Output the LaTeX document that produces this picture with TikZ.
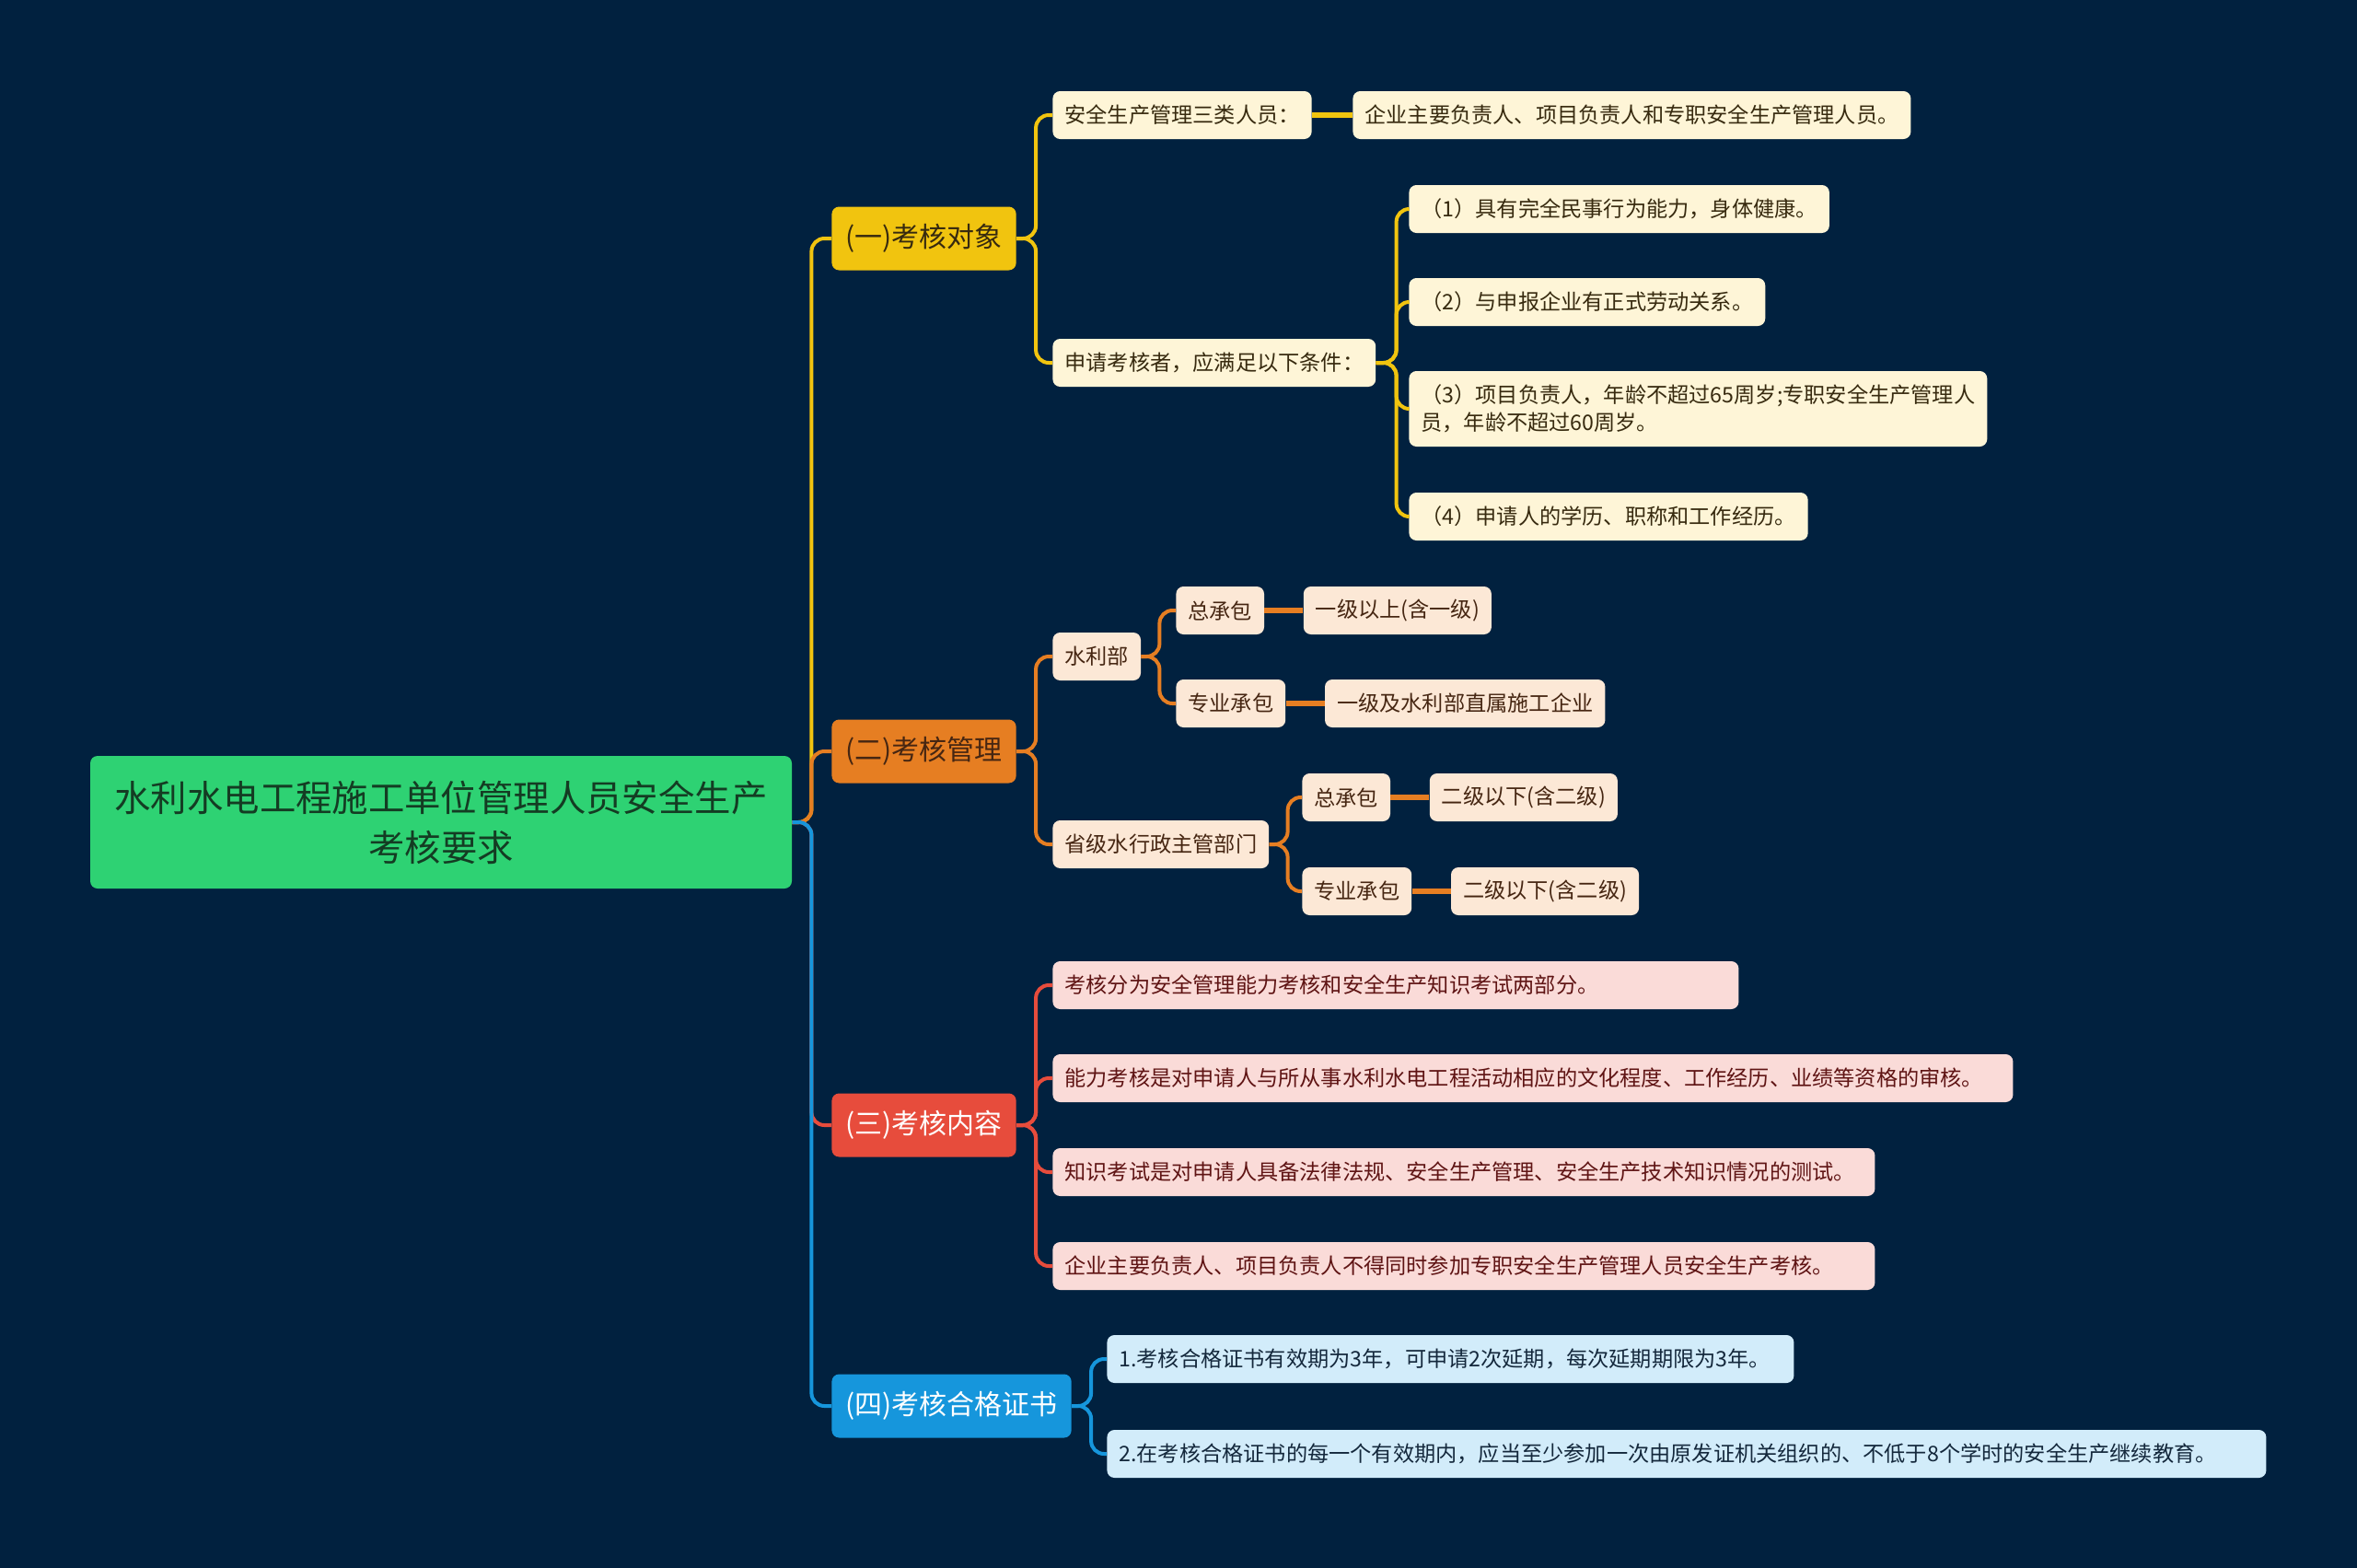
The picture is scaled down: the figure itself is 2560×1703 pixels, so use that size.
\documentclass[tikz,border=0pt]{standalone}
\usepackage{fontspec}
\setmainfont{Noto Sans CJK SC}
\usepackage{xcolor}
\usepackage{tikz}
\usetikzlibrary{positioning}

\definecolor{navy}{RGB}{1,33,63}
\definecolor{rootgreen}{RGB}{46,210,115}
\definecolor{rootink}{RGB}{20,60,35}
\definecolor{ylw}{RGB}{241,196,15}
\definecolor{org}{RGB}{230,126,34}
\definecolor{rd}{RGB}{231,76,60}
\definecolor{bl}{RGB}{22,150,220}
\definecolor{ylwleaf}{RGB}{254,245,215}
\definecolor{orgleaf}{RGB}{252,232,214}
\definecolor{rdleaf}{RGB}{250,219,216}
\definecolor{blleaf}{RGB}{210,236,250}
\definecolor{ylwink}{RGB}{55,42,15}
\definecolor{orgink}{RGB}{70,38,18}
\definecolor{rdink}{RGB}{95,20,20}
\definecolor{blink}{RGB}{20,40,60}

\tikzset{
  root/.style={rectangle,rounded corners=4pt,fill=rootgreen,text=rootink,
    font=\fontsize{19.7}{27}\selectfont,align=center,minimum width=381pt,minimum height=72pt},
  topic/.style={rectangle,rounded corners=4pt,anchor=west,minimum height=34.5pt,
    inner xsep=7.5pt,font=\fontsize{15}{18}\selectfont},
  leaf/.style={rectangle,rounded corners=4pt,anchor=west,minimum height=26pt,
    inner xsep=6.5pt,font=\fontsize{11.6}{15}\selectfont},
  wide/.style={text width=#1,align=left},
  link/.style={line width=2pt,rounded corners=7pt},
  bar/.style={line width=3pt},
}

\begin{document}
\begin{tikzpicture}[x=0.5pt,y=-0.5pt]
    % background
    \fill[navy] (0,0) rectangle (2560,1703);
    \useasboundingbox (0,0) rectangle (2560,1703);

    % root
    \node[root] (root) at (479,893) {水利水电工程施工单位管理人员安全生产\\考核要求};

    % topics
    \node[topic,fill=ylw,text=ylwink] (objA) at (903,259) {(一)考核对象};
    \node[topic,fill=org,text=orgink] (objB) at (903,816) {(二)考核管理};
    \node[topic,fill=rd,text=white] (objC) at (903,1222) {(三)考核内容};
    \node[topic,fill=bl,text=white] (objD) at (903,1527) {(四)考核合格证书};

    \draw[link,ylw] (root.east) -- ++(21,0) |- (objA.west);
    \draw[link,org] (root.east) -- ++(21,0) |- (objB.west);
    \draw[link,rd] (root.east) -- ++(21,0) |- (objC.west);
    \draw[link,bl] (root.east) -- ++(21,0) |- (objD.west);

    % (一) 考核对象
    \node[leaf,fill=ylwleaf,text=ylwink] (a1) at (1143,125) {安全生产管理三类人员：};
    \node[leaf,fill=ylwleaf,text=ylwink,right=22pt of a1] (a1x) {企业主要负责人、项目负责人和专职安全生产管理人员。};
    \node[leaf,fill=ylwleaf,text=ylwink] (a2) at (1143,394) {申请考核者，应满足以下条件：};
    \node[leaf,fill=ylwleaf,text=ylwink] (cond1) at (1530,227) {（1）具有完全民事行为能力，身体健康。};
    \node[leaf,fill=ylwleaf,text=ylwink] (cond2) at (1530,328) {（2）与申报企业有正式劳动关系。};
    \node[leaf,fill=ylwleaf,text=ylwink,align=left,minimum height=41pt] (cond3) at (1530,444)
      {（3）项目负责人，年龄不超过65周岁;专职安全生产管理人\\员，年龄不超过60周岁。};
    \node[leaf,fill=ylwleaf,text=ylwink] (cond4) at (1530,561) {（4）申请人的学历、职称和工作经历。};

    \draw[link,ylw] (objA.east) -- ++(21,0) |- (a1.west);
    \draw[link,ylw] (objA.east) -- ++(21,0) |- (a2.west);
    \draw[bar,ylw] (a1) -- (a1x);
    \foreach \c in {cond1,cond2,cond3,cond4}
      \draw[link,ylw] (a2.east) -- ++(22,0) |- (\c.west);

    % (二) 考核管理
    \node[leaf,fill=orgleaf,text=orgink] (b1) at (1143,713) {水利部};
    \node[leaf,fill=orgleaf,text=orgink] (b11) at (1277,663) {总承包};
    \node[leaf,fill=orgleaf,text=orgink,right=21pt of b11] (b11x) {一级以上(含一级)};
    \node[leaf,fill=orgleaf,text=orgink] (b12) at (1277,764) {专业承包};
    \node[leaf,fill=orgleaf,text=orgink,right=21pt of b12] (b12x) {一级及水利部直属施工企业};
    \node[leaf,fill=orgleaf,text=orgink] (b2) at (1143,917) {省级水行政主管部门};
    \node[leaf,fill=orgleaf,text=orgink] (b21) at (1414,866) {总承包};
    \node[leaf,fill=orgleaf,text=orgink,right=21pt of b21] (b21x) {二级以下(含二级)};
    \node[leaf,fill=orgleaf,text=orgink] (b22) at (1414,968) {专业承包};
    \node[leaf,fill=orgleaf,text=orgink,right=21pt of b22] (b22x) {二级以下(含二级)};

    \draw[link,org] (objB.east) -- ++(21,0) |- (b1.west);
    \draw[link,org] (objB.east) -- ++(21,0) |- (b2.west);
    \draw[link,org] (b1.east) -- ++(20,0) |- (b11.west);
    \draw[link,org] (b1.east) -- ++(20,0) |- (b12.west);
    \draw[link,org] (b2.east) -- ++(20,0) |- (b21.west);
    \draw[link,org] (b2.east) -- ++(20,0) |- (b22.west);
    \draw[bar,org] (b11) -- (b11x);
    \draw[bar,org] (b12) -- (b12x);
    \draw[bar,org] (b21) -- (b21x);
    \draw[bar,org] (b22) -- (b22x);

    % (三) 考核内容
    \node[leaf,wide=359.5pt,fill=rdleaf,text=rdink] (c1) at (1143,1070) {考核分为安全管理能力考核和安全生产知识考试两部分。};
    \node[leaf,wide=508.5pt,fill=rdleaf,text=rdink] (c2) at (1143,1171) {能力考核是对申请人与所从事水利水电工程活动相应的文化程度、工作经历、业绩等资格的审核。};
    \node[leaf,wide=433.5pt,fill=rdleaf,text=rdink] (c3) at (1143,1273) {知识考试是对申请人具备法律法规、安全生产管理、安全生产技术知识情况的测试。};
    \node[leaf,wide=433.5pt,fill=rdleaf,text=rdink] (c4) at (1143,1375) {企业主要负责人、项目负责人不得同时参加专职安全生产管理人员安全生产考核。};

    \foreach \c in {c1,c2,c3,c4}
      \draw[link,rd] (objC.east) -- ++(21,0) |- (\c.west);

    % (四) 考核合格证书
    \node[leaf,wide=360pt,fill=blleaf,text=blink] (d1) at (1202,1476) {1.考核合格证书有效期为3年，可申请2次延期，每次延期期限为3年。};
    \node[leaf,wide=616.5pt,fill=blleaf,text=blink] (d2) at (1202,1579) {2.在考核合格证书的每一个有效期内，应当至少参加一次由原发证机关组织的、不低于8个学时的安全生产继续教育。};

    \draw[link,bl] (objD.east) -- ++(21,0) |- (d1.west);
    \draw[link,bl] (objD.east) -- ++(21,0) |- (d2.west);
\end{tikzpicture}
\end{document}
